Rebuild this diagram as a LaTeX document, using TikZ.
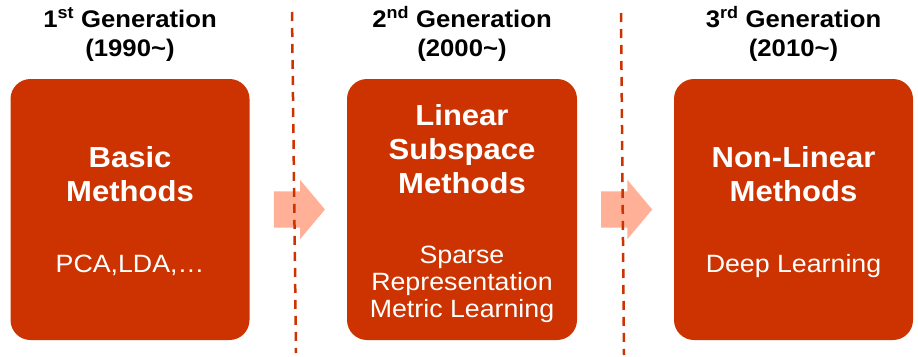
\documentclass[tikz,border=0pt]{standalone}
\usepackage{fontspec}
\setmainfont{Liberation Sans}[FakeStretch=1.07]
\usetikzlibrary{positioning}
\usetikzlibrary{shapes.arrows}
\usetikzlibrary{calc}
\definecolor{ziegel}{RGB}{204,51,0}
\definecolor{lachs}{RGB}{255,176,150}
\tikzset{
    genbox/.style={fill=ziegel, rounded corners=20pt, minimum height=261pt, inner sep=0pt},
    titel/.style={text=white, font=\fontsize{29}{34}\selectfont\bfseries, align=center, inner sep=0pt},
    inhalt/.style={text=white, font=\fontsize{25}{27}\selectfont, align=center, inner sep=0pt},
    kopf/.style={font=\fontsize{24}{29}\selectfont\bfseries, align=center, inner sep=0pt},
    pfeilblock/.style={single arrow, fill=lachs, draw=none, minimum height=51pt,
        inner xsep=0pt, inner ysep=18pt, anchor=tail, xshift=-24.5pt,
        single arrow head extend=11.5pt, single arrow tip angle=100},
    trenner/.style={ziegel, line width=2.5pt, dash pattern=on 9pt off 7pt}
}

\begin{document}
\begin{tikzpicture}[x=1pt, y=-1pt]

    \useasboundingbox (0,0) rectangle (918,356);

    % die drei Generationen
    \node[genbox, minimum width=239pt] (b1) at (130,209.5) {};
    \node[genbox, minimum width=230pt] (b2) at (462,209.5) {};
    \node[genbox, minimum width=239pt] (b3) at (793.5,209.5) {};

    \node[kopf, above=17pt of b1] (k1) {1\textsuperscript{st} Generation\\(1990\textasciitilde)};
    \node[kopf, above=17pt of b2] (k2) {2\textsuperscript{nd} Generation\\(2000\textasciitilde)};
    \node[kopf, above=17pt of b3] (k3) {3\textsuperscript{rd} Generation\\(2010\textasciitilde)};

    \node[titel] (t1) at (130,174.5) {Basic\\Methods};
    \node[inhalt] (u1) at (130,265) {PCA,LDA,…};

    \node[titel] (t2) at (462,149.5) {Linear\\Subspace\\Methods};
    \node[inhalt] (u2) at (462,284.5) {Sparse\\Representation\\Metric Learning};

    \node[titel] (t3) at (793.5,174.5) {Non-Linear\\Methods};
    \node[inhalt] (u3) at (793.5,266) {Deep Learning};

    % Pfeile zwischen den Boxen
    \node[pfeilblock] (p1) at ($(b1.east)!0.5!(b2.west)$) {};
    \node[pfeilblock] (p2) at ($(b2.east)!0.5!(b3.west)$) {};

    % gestrichelte Trennlinien
    \coordinate (s1o) at (292,12);
    \coordinate (s1u) at (296,353);
    \coordinate (s2o) at (621,13);
    \coordinate (s2u) at (624,355);
    \draw[trenner] (s1o) -- (s1u);
    \draw[trenner] (s2o) -- (s2u);

\end{tikzpicture}
\end{document}
